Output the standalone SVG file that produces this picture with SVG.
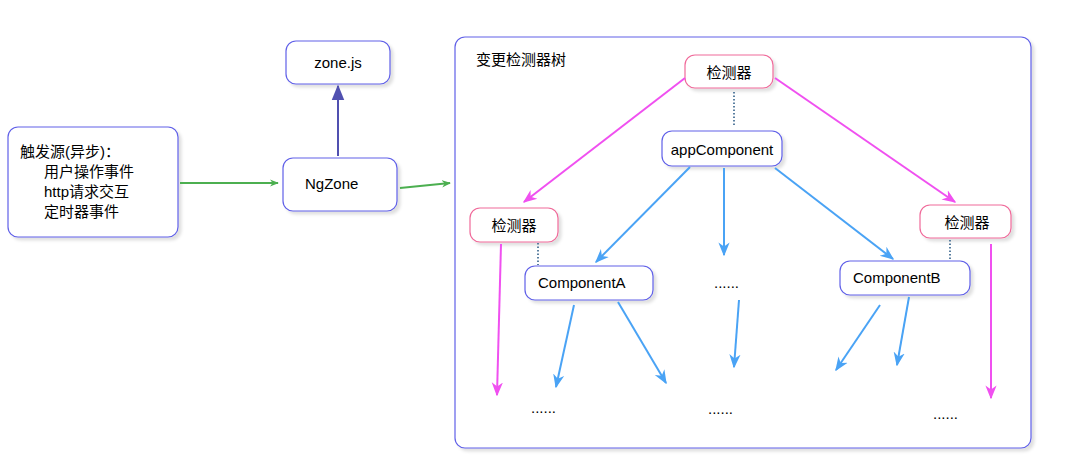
<svg xmlns="http://www.w3.org/2000/svg" width="1074" height="475" viewBox="0 0 1074 475">
<style>
text{font-family:"Liberation Sans","Noto Sans CJK SC",sans-serif;font-size:15px;fill:#000}
.b{fill:#fff;stroke:#6060e8;stroke-width:1.2}
.p{fill:#fff;stroke:#f06a9a;stroke-width:1.2}
.g{stroke:#4caf50;stroke-width:2;fill:none;marker-end:url(#mg)}
.m{stroke:#f050f0;stroke-width:2;fill:none;marker-end:url(#mm)}
.l{stroke:#4aa3f5;stroke-width:2;fill:none;marker-end:url(#ml)}
.d{stroke:#5a7fa0;stroke-width:2;stroke-dasharray:1.5 2;fill:none}
</style>
<defs>
<filter id="sh" x="-10%" y="-10%" width="130%" height="140%"><feDropShadow dx="3" dy="3" stdDeviation="1.5" flood-color="#000" flood-opacity="0.12"/></filter>
<marker id="mg" viewBox="0 0 10 10" refX="9" refY="5" markerWidth="9" markerHeight="9" markerUnits="userSpaceOnUse" orient="auto"><path d="M0,1 L10,5 L0,9 L3,5z" fill="#4caf50"/></marker>
<marker id="mm" viewBox="0 0 10 10" refX="9" refY="5" markerWidth="14" markerHeight="14" markerUnits="userSpaceOnUse" orient="auto"><path d="M0,1 L10,5 L0,9 L3,5z" fill="#f050f0"/></marker>
<marker id="ml" viewBox="0 0 10 10" refX="9" refY="5" markerWidth="14" markerHeight="14" markerUnits="userSpaceOnUse" orient="auto"><path d="M0,1 L10,5 L0,9 L3,5z" fill="#4aa3f5"/></marker>
<marker id="mb" viewBox="0 0 10 10" refX="9" refY="5" markerWidth="16" markerHeight="16" markerUnits="userSpaceOnUse" orient="auto"><path d="M0,1 L10,5 L0,9z" fill="#5050b0"/></marker>
</defs>
<rect width="1074" height="475" fill="#fff"/>
<g id="container"><rect class="b" x="455" y="37" width="576" height="411" rx="10" filter="url(#sh)"/><text x="476" y="65">变更检测器树</text></g>
<g id="source"><rect class="b" x="8" y="127" width="170" height="110" rx="10" filter="url(#sh)"/><text x="20" y="157">触发源(异步)：</text><text x="44" y="177">用户操作事件</text><text x="44" y="197">http请求交互</text><text x="44" y="217">定时器事件</text></g>
<g id="zonejs"><rect class="b" x="286" y="41" width="104" height="43" rx="10" filter="url(#sh)"/><text x="338" y="68" text-anchor="middle">zone.js</text></g>
<g id="ngzone"><rect class="b" x="283" y="158" width="114" height="53" rx="10" filter="url(#sh)"/><text x="305" y="189">NgZone</text></g>
<g id="det-top"><rect class="p" x="685" y="55" width="88" height="33" rx="10" filter="url(#sh)"/><text x="729" y="78" text-anchor="middle">检测器</text></g>
<g id="app"><rect class="b" x="662" y="131" width="120" height="35" rx="10" filter="url(#sh)"/><text x="722" y="155" text-anchor="middle">appComponent</text></g>
<g id="det-left"><rect class="p" x="470" y="208" width="88" height="34" rx="10" filter="url(#sh)"/><text x="514" y="231" text-anchor="middle">检测器</text></g>
<g id="det-right"><rect class="p" x="920" y="205" width="91" height="33" rx="10" filter="url(#sh)"/><text x="967" y="228" text-anchor="middle">检测器</text></g>
<g id="compA"><rect class="b" x="525" y="266" width="128" height="34" rx="10" filter="url(#sh)"/><text x="538" y="288">ComponentA</text></g>
<g id="compB"><rect class="b" x="840" y="261" width="130" height="34" rx="10" filter="url(#sh)"/><text x="853" y="283">ComponentB</text></g>
<g id="dots"><text x="714" y="288">......</text><text x="531" y="413">......</text><text x="708" y="414">......</text><text x="933" y="419">......</text></g>
<g id="connectors">
<path class="g" d="M180,183 L278,183"/>
<path class="g" d="M400,188 L450,183"/>
<path d="M338,156 L338,86" stroke="#5050b0" stroke-width="2" marker-end="url(#mb)"/>
<path class="d" d="M734,92 L734,126"/>
<path class="d" d="M538,243 L538,265"/>
<path class="d" d="M950,240 L950,260"/>
<path class="m" d="M685,78 L524,202"/>
<path class="m" d="M775,78 L955,202"/>
<path class="m" d="M501,244 L497,395"/>
<path class="m" d="M991,244 L991,398"/>
<path class="l" d="M690,167 L596,262"/>
<path class="l" d="M724,168 L724,255"/>
<path class="l" d="M775,168 L893,259"/>
<path class="l" d="M574,305 L556,387"/>
<path class="l" d="M618,302 L666,383"/>
<path class="l" d="M739,300 L734,367"/>
<path class="l" d="M880,305 L836,370"/>
<path class="l" d="M909,297 L897,365"/>
</g>
</svg>
